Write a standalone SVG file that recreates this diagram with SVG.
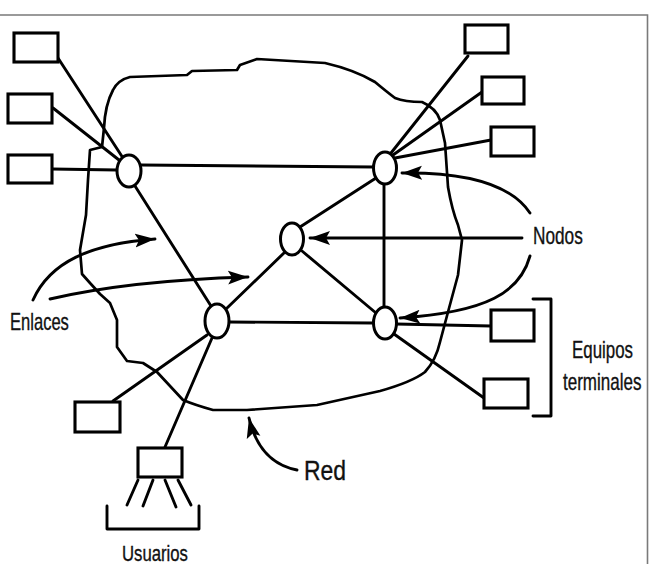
<svg xmlns="http://www.w3.org/2000/svg" width="650" height="564" viewBox="0 0 650 564">
<style>
.ln{fill:none;stroke:#000;stroke-width:2.9;stroke-linecap:round;stroke-linejoin:round}
.cl{fill:none;stroke:#000;stroke-width:2.7;stroke-linejoin:round}
.bx{fill:#fff;stroke:#000;stroke-width:3.1}
.nd{fill:#fff;stroke:#000;stroke-width:3}
.tx{font-family:"Liberation Sans",Arial,sans-serif;fill:#111;stroke:#111;stroke-width:0.35}
.fr{stroke:#7a7a7a;stroke-width:1.6;fill:none}
</style>
<defs>
<marker id="ah" markerUnits="userSpaceOnUse" markerWidth="22" markerHeight="16" viewBox="0 0 22 16" refX="20" refY="8" orient="auto">
<path d="M0,1 L20,8 L0,15 L4,8 z" fill="#000"/>
</marker>
</defs>
<rect width="650" height="564" fill="#fff"/>
<path class="fr" d="M0,15 H647.5 V564"/>
<g id="red-cloud">
<path class="cl" d="M90,283 L82,274 L80,250 L86,215 L88,180 L90,150 L102,147 L104,128 Q105,105 113,90 Q118,80 130,77 L187,75 L192,71 L237,70 L240,65 L257,59 L325,63 Q355,70 375,82 Q387,92 395,98 Q405,102 422,102 Q436,108 440,120 L445,143 L448,187 Q452,210 458,225 L462,240 L458,275 L448,312 L440,342 Q436,360 425,372 Q412,382 380,391 L317,405 L247,410 L213,410 Q195,405 183,400 L157,372 L143,363 L127,361 L117,347 L117,320 L110,303 L100,294 Z"/>
</g>
<g id="connectors">
<line class="ln" x1="58" y1="58" x2="123" y2="158"/>
<line class="ln" x1="53" y1="108" x2="119" y2="160"/>
<line class="ln" x1="52" y1="169" x2="117" y2="170"/>
<line class="ln" x1="141" y1="165" x2="374" y2="167"/>
<line class="ln" x1="135" y1="186" x2="211" y2="306"/>
<line class="ln" x1="226" y1="309" x2="285" y2="252"/>
<line class="ln" x1="300" y1="227" x2="376" y2="178"/>
<line class="ln" x1="302" y1="251" x2="376" y2="313"/>
<line class="ln" x1="384" y1="184" x2="384" y2="307"/>
<line class="ln" x1="229" y1="322" x2="373" y2="323"/>
<line class="ln" x1="468" y1="56" x2="391" y2="153"/>
<line class="ln" x1="482" y1="92" x2="393" y2="155"/>
<line class="ln" x1="491" y1="140" x2="395" y2="158"/>
<line class="ln" x1="491" y1="326" x2="396" y2="324"/>
<line class="ln" x1="484" y1="398" x2="394" y2="334"/>
<line class="ln" x1="113" y1="401" x2="207" y2="335"/>
<line class="ln" x1="165" y1="447" x2="212" y2="338"/>
<line class="ln" x1="138" y1="480" x2="127" y2="505"/>
<line class="ln" x1="153" y1="480" x2="143" y2="506"/>
<line class="ln" x1="165" y1="480" x2="176" y2="507"/>
<line class="ln" x1="178" y1="480" x2="191" y2="505"/>
</g>
<g id="label-arrows">
<path class="ln" d="M33,300 C50,262 90,244 155,239" marker-end="url(#ah)"/>
<path class="ln" d="M50,299 C110,285 180,279 248,277" marker-end="url(#ah)"/>
<path class="ln" d="M522,238 L310,238" marker-end="url(#ah)"/>
<path class="ln" d="M530,213 C512,186 472,172 402,173" marker-end="url(#ah)"/>
<path class="ln" d="M530,256 C520,292 488,312 400,318" marker-end="url(#ah)"/>
<path class="ln" d="M297,470 C276,466 257,452 249,418" marker-end="url(#ah)"/>
</g>
<g id="brackets">
<path class="ln" d="M533,299 H551 V416 H533"/>
<path class="ln" d="M107,506 V529 H199 V506"/>
</g>
<g id="node-n1"><ellipse class="nd" cx="129" cy="171" rx="12" ry="16"/></g>
<g id="node-ntr"><ellipse class="nd" cx="385" cy="168" rx="11.5" ry="16"/></g>
<g id="node-nc"><ellipse class="nd" cx="292" cy="239" rx="11.5" ry="16"/></g>
<g id="node-nbl"><ellipse class="nd" cx="217" cy="321" rx="12" ry="17"/></g>
<g id="node-nbr"><ellipse class="nd" cx="385" cy="323" rx="11.5" ry="16"/></g>
<g id="term-l1"><rect class="bx" x="14" y="33" width="44" height="29"/></g>
<g id="term-l2"><rect class="bx" x="8" y="94" width="44" height="29"/></g>
<g id="term-l3"><rect class="bx" x="8" y="155" width="44" height="28"/></g>
<g id="term-r1"><rect class="bx" x="465" y="25" width="43" height="28"/></g>
<g id="term-r2"><rect class="bx" x="482" y="77" width="42" height="27"/></g>
<g id="term-r3"><rect class="bx" x="491" y="127" width="43" height="29"/></g>
<g id="term-r4"><rect class="bx" x="491" y="310" width="43" height="31"/></g>
<g id="term-r5"><rect class="bx" x="484" y="379" width="44" height="29"/></g>
<g id="term-b1"><rect class="bx" x="75" y="402" width="45" height="30"/></g>
<g id="term-u"><rect class="bx" x="138" y="448" width="44" height="29"/></g>
<g id="labels">
<text class="tx" font-size="23" transform="translate(533,244) scale(0.75,1)">Nodos</text>
<text class="tx" font-size="23" transform="translate(10,330) scale(0.72,1)">Enlaces</text>
<text class="tx" font-size="23" transform="translate(572,358) scale(0.734,1)">Equipos</text>
<text class="tx" font-size="23" transform="translate(563,390) scale(0.74,1)">terminales</text>
<text class="tx" font-size="27" transform="translate(304,480) scale(0.85,1)">Red</text>
<text class="tx" font-size="22" transform="translate(122,561) scale(0.76,1)">Usuarios</text>
</g>
</svg>
